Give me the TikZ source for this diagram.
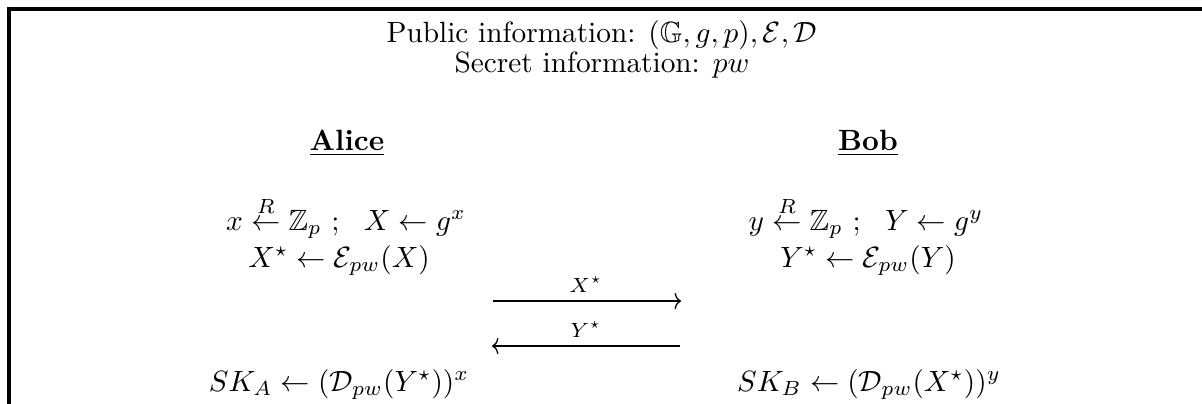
\documentclass[tikz,border=0pt]{standalone}
\usepackage{amsmath,amssymb}
\usetikzlibrary{arrows.meta}
\begin{document}
\begin{tikzpicture}[x=0.3413pt,y=-0.3413pt,
  txt/.style={anchor=base,inner sep=0pt,outer sep=0pt},
  msglabel/.style={anchor=base,inner sep=0pt,font=\scriptsize},
  msg/.style={line width=0.45pt,-{To[length=2.2pt,width=5.5pt]}},
  frameline/.style={line width=1.1pt}]
\useasboundingbox (0,0) rectangle (1202,403);
\coordinate (fb) at (9,410);
\coordinate (fc) at (9,9);
\coordinate (fr) at (1210,9);
\draw[frameline] (fb) -- (fc) -- (fr);
\node[txt] (pub) at (602,42) {Public information: $(\mathbb{G},g,p),\mathcal{E},\mathcal{D}$};
\node[txt] (sec) at (602,72) {Secret information: $pw$};
\node[txt] (alice) at (347,150) {\underline{\textbf{Alice}}};
\node[txt] (bob) at (868,150) {\underline{\textbf{Bob}}};
\node[txt] (a1) at (346,230) {$x \stackrel{R}{\leftarrow} \mathbb{Z}_p~;~~X \leftarrow g^x$};
\node[txt] (a2) at (339,267) {$X^\star \leftarrow \mathcal{E}_{pw}(X)$};
\node[txt] (a3) at (339,391) {$SK_A \leftarrow (\mathcal{D}_{pw}(Y^\star))^x$};
\node[txt] (b1) at (866,230) {$y \stackrel{R}{\leftarrow} \mathbb{Z}_p~;~~Y \leftarrow g^y$};
\node[txt] (b2) at (868,267) {$Y^\star \leftarrow \mathcal{E}_{pw}(Y)$};
\node[txt] (b3) at (869,391) {$SK_B \leftarrow (\mathcal{D}_{pw}(X^\star))^y$};
\coordinate (m1s) at (493,301);
\coordinate (m1e) at (681,301);
\coordinate (m2s) at (680,346);
\coordinate (m2e) at (492,346);
\draw[msg] (m1s) -- (m1e);
\draw[msg] (m2s) -- (m2e);
\node[msglabel] (l1) at (586,292) {$X^\star$};
\node[msglabel] (l2) at (586,337) {$Y^\star$};
\end{tikzpicture}
\end{document}
